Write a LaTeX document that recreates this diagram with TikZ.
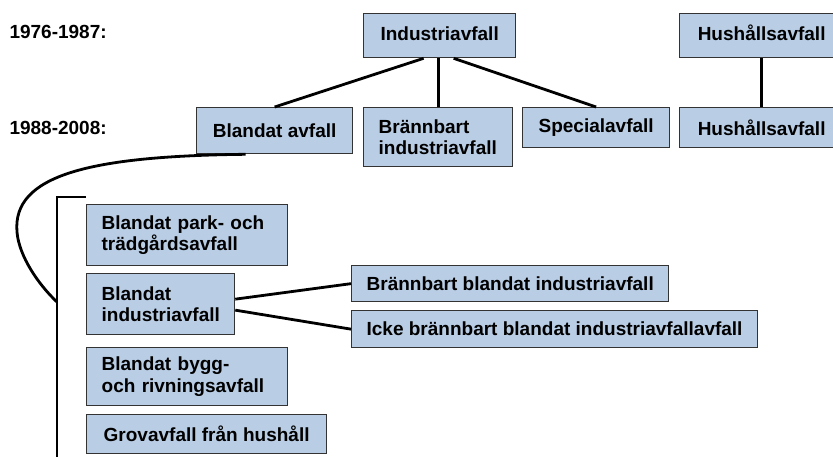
\documentclass[tikz,border=0pt]{standalone}
\usepackage{fontspec}
\setmainfont{Liberation Sans}
\usetikzlibrary{calc}
\definecolor{boxfill}{HTML}{B9CDE5}
\definecolor{boxline}{HTML}{333333}

\begin{document}
\begin{tikzpicture}[
    x=1pt, y=-1pt,
    box/.style={rectangle, draw=boxline, fill=boxfill, line width=1.3pt,
                anchor=north west, inner xsep=15pt, inner ysep=2pt,
                font=\fontsize{19}{21.5}\selectfont\bfseries},
    year/.style={anchor=west, font=\fontsize{19}{21.5}\selectfont\bfseries},
    link/.style={line width=2.8pt}
  ]
  \clip (0,0) rectangle (833,456);

  \node[year] (y1) at (6,32) {1976-1987:};
  \node[year] (y2) at (6,128) {1988-2008:};

  % 1976-1987
  \node[box, minimum width=152pt, minimum height=44pt, text depth=5pt] (indu) at (363,13) {Industriavfall};
  \node[box, minimum width=164pt, minimum height=44pt, text depth=5pt] (hus1) at (679,13) {Hushållsavfall};

  % 1988-2008
  \node[box, minimum width=156pt, minimum height=46pt] (blavf) at (196,107) {Blandat avfall};
  \node[box, text width=119pt, align=left, minimum height=59pt] (brind) at (363,107)
    {Brännbart\\industriavfall};
  \node[box, minimum width=147pt, minimum height=40pt] (spec) at (522,107) {Specialavfall};
  \node[box, minimum width=164pt, minimum height=40pt] (hus2) at (679,107) {Hushållsavfall};

  \draw[link] ([xshift=-16pt]indu.south) -- (blavf.north);
  \draw[link] (brind.north |- indu.south) -- (brind.north);
  \draw[link] ([xshift=14pt]indu.south) -- (spec.north);
  \draw[link] (hus1.south) -- (hus2.north);

  % fractions of mixed waste
  \node[box, text width=171pt, align=left, minimum height=61pt] (bpark) at (86,204)
    {Blandat park- och\\trädgårdsavfall};
  \node[box, text width=118pt, align=left, minimum height=61pt] (bindu) at (86,273)
    {Blandat\\industriavfall};
  \node[box, text width=171pt, align=left, minimum height=58pt] (bbygg) at (86,347)
    {Blandat bygg-\\och rivningsavfall};
  \node[box, minimum width=240pt, minimum height=39pt] (grov) at (86,414) {Grovavfall från hushåll};

  \node[box, minimum width=316pt, minimum height=36pt] (brbl) at (351,265)
    {Brännbart blandat industriavfall};
  \node[box, minimum width=403pt, minimum height=37pt] (icke) at (351,310)
    {Icke brännbart blandat industriavfallavfall};

  \draw[link] ([yshift=5pt]bindu.east) -- (brbl.west);
  \draw[link] ([yshift=-6pt]bindu.east) -- (icke.west);

  \coordinate (brtop) at (57,197);
  \coordinate (brmid) at (57,302);
  \coordinate (brbot) at (57,470);
  \draw[link] (bpark.west |- brtop) -- (brtop) -- (brbot);
  \draw[link] ([xshift=-29pt]blavf.south) .. controls (90,156) and (12,175) .. (17,232)
    .. controls (19,256) and (38,284) .. (brmid);
\end{tikzpicture}
\end{document}
